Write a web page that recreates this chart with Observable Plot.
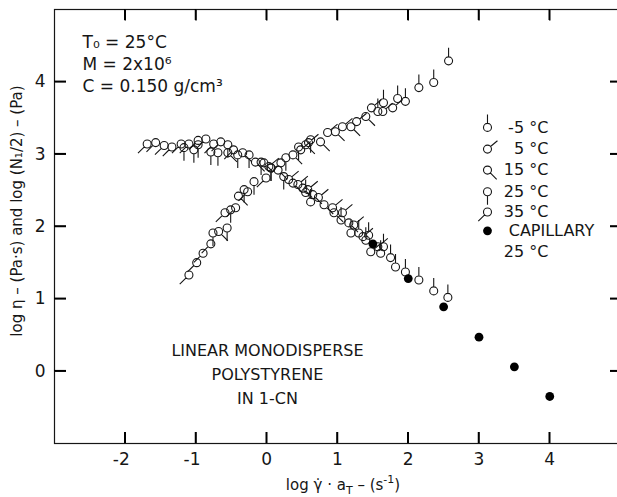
<!DOCTYPE html>
<html><head><meta charset="utf-8">
<script src="https://cdn.jsdelivr.net/npm/d3@7"></script>
<script src="https://cdn.jsdelivr.net/npm/@observablehq/plot@0.6"></script>
<style>body{margin:0;background:#fff} svg{display:block}</style>
</head><body><div id="chart"></div>
<script>
// ---- data ----
const tempLabels = ["-5 °C", "5 °C", "15 °C", "25 °C", "35 °C"];
const pipAngles = [-90, -40, 45, 90, 135]; // pip direction per temperature (SVG degrees)

// log eta vs log(gamma-dot * aT)
const etaM5 = [[0.55,2.47],[0.62,2.34],[1.05,2.09],[1.19,1.91],[1.30,1.91],[1.40,1.81],[1.44,1.88],[1.61,1.63],[1.65,1.72],[1.75,1.57],[1.82,1.44],[1.96,1.37],[2.15,1.26],[2.36,1.11],[2.56,1.02]];
const eta5  = [[0.03,2.83],[0.31,2.65],[0.44,2.58],[0.58,2.51],[0.73,2.40],[0.93,2.26],[1.07,2.19],[1.23,2.02],[1.36,1.86],[1.57,1.72],[1.47,1.65]];
const eta15 = [[-0.55,3.02],[-0.34,3.02],[-0.16,2.89],[-0.04,2.88],[0.16,2.78],[0.37,2.60],[0.51,2.53],[0.65,2.44],[0.81,2.30],[0.95,2.19],[1.16,2.05]];
const eta25 = [[-1.17,3.09],[-1.03,3.06],[-0.97,3.13],[-0.79,3.03],[-0.69,3.02],[-0.55,3.13],[-0.41,2.99],[-0.25,2.99],[-0.08,2.89],[0.06,2.81],[0.24,2.69]];
const eta35 = [[-1.69,3.14],[-1.57,3.16],[-1.45,3.12],[-1.34,3.10],[-1.21,3.14],[-1.10,3.14],[-0.97,3.19],[-0.86,3.21],[-0.75,3.14],[-0.65,3.17],[-0.47,3.06]];

// log (N1/2) vs log(gamma-dot * aT)
const n1M5 = [[1.57,3.59],[1.65,3.71],[1.85,3.77],[1.96,3.73],[2.15,3.92],[2.36,3.99],[2.57,4.29]];
const n15  = [[0.48,3.06],[0.59,3.16],[0.86,3.30],[1.07,3.38],[1.27,3.45],[1.48,3.64],[1.64,3.59],[1.78,3.64]];
const n115 = [[-0.68,1.93],[-0.40,2.42],[0.37,2.99],[0.55,3.13],[0.76,3.17],[0.97,3.31],[1.19,3.38],[1.40,3.52]];
const n125 = [[-0.76,1.91],[-0.56,1.98],[-0.51,2.23],[-0.32,2.51],[-0.18,2.62],[0.06,2.81],[0.27,2.95],[0.45,3.10],[0.62,3.20]];
const n135 = [[-1.10,1.33],[-0.99,1.50],[-0.90,1.63],[-0.79,1.76],[-0.59,2.19],[-0.44,2.26],[-0.27,2.48],[-0.01,2.67],[0.20,2.88]];

// capillary viscosity, 25 °C
const capX = [1.5, 2.0, 2.5, 3.0, 3.5, 4.0];
const capY = [1.76, 1.28, 0.89, 0.47, 0.06, -0.35];

const xTicks = [-2, -1, 0, 1, 2, 3, 4];
const yTicks = [0, 1, 2, 3, 4];

const legendLabels = ["-5 °C", "5 °C", "15 °C", "25 °C", "35 °C"];
const legendRowY = [3.37, 3.07, 2.78, 2.48, 2.20];
const capLegendY = [1.94, 1.65];
const legendSymX = 3.12, legendTextEnd = 3.98, legendTextStart = 3.42;

const annotation = "T₀ = 25°C\nM = 2x10⁶\nC = 0.150 g/cm³";
const sampleText = "LINEAR MONODISPERSE\nPOLYSTYRENE\nIN 1-CN";

// ---- symbols: open circle with a pip ----
const PIP = 9;
function pipSymbol(deg) {
  const a = deg * Math.PI / 180;
  return {
    draw(ctx, size) {
      const r = Math.sqrt(size / Math.PI);
      ctx.moveTo(r, 0);
      ctx.arc(0, 0, r, 0, 2 * Math.PI);
      ctx.moveTo(r * Math.cos(a), r * Math.sin(a));
      ctx.lineTo((r + PIP) * Math.cos(a), (r + PIP) * Math.sin(a));
    }
  };
}
const symbols = pipAngles.map(pipSymbol);
const etaSets = [etaM5, eta5, eta15, eta25, eta35];
const n1Sets = [n1M5, n15, n115, n125, n135];

const ink = "#161616";
const fmt = d => d < 0 ? "-" + Math.abs(d) : String(d);
const W = 617, H = 497, ML = 54, MR = -3, MT = 9, MB = 54;
const xDom = [-3, 5], yDom = [-1, 5];
const plotW = W - ML - MR, plotH = H - MT - MB;
const yUnit = (yDom[1] - yDom[0]) / plotH;

const marks = [];
// inward ticks on all four sides
const tk = {stroke: "#000", strokeWidth: 1.5};
marks.push(Plot.axisX(xTicks, {anchor: "bottom", tickSize: -11, tickFormat: () => "", label: null, ...tk}));
marks.push(Plot.link(xTicks, {x1: d => d, x2: d => d, y1: yDom[1], y2: yDom[1] - 11 * yUnit, ...tk}));
marks.push(Plot.ruleY(yTicks, {y: d => d, insetRight: plotW - 12, ...tk}));
marks.push(Plot.ruleY(yTicks, {y: d => d, insetLeft: plotW - 10, ...tk}));

etaSets.forEach((set, i) => {
  const all = set.concat(n1Sets[i]);
  marks.push(Plot.dot(all, {x: d => d[0], y: d => d[1], r: 4, symbol: symbols[i], fill: "none", stroke: ink, strokeWidth: 1.1}));
});
marks.push(Plot.dot(capX.map((x, i) => ({x, y: capY[i]})), {x: "x", y: "y", r: 4.4, fill: "#000", stroke: "none"}));

// legend
legendLabels.forEach((lab, i) => {
  marks.push(Plot.dot([legendRowY[i]], {x: legendSymX, y: d => d, r: 4, symbol: symbols[i], fill: "none", stroke: ink, strokeWidth: 1.1}));
});
marks.push(Plot.text(legendLabels, {x: legendTextEnd, y: (d, i) => legendRowY[i], text: d => d, textAnchor: "end", fontSize: 16, fill: ink}));
marks.push(Plot.dot([capLegendY[0]], {x: legendSymX, y: d => d, r: 4.4, fill: "#000"}));
marks.push(Plot.text(["CAPILLARY"], {x: legendTextStart, y: capLegendY[0], text: d => d, textAnchor: "start", fontSize: 16, fill: ink}));
marks.push(Plot.text(["25 °C"], {x: legendTextEnd, y: capLegendY[1], text: d => d, textAnchor: "end", fontSize: 16, fill: ink}));

// annotations
marks.push(Plot.text([annotation], {frameAnchor: "top-left", dx: 28, dy: 23, lineAnchor: "top", lineHeight: 1.3, text: d => d, textAnchor: "start", fontSize: 17, fill: ink}));
marks.push(Plot.text([sampleText], {x: 0.01, y: -0.01, text: d => d, textAnchor: "middle", lineHeight: 1.5, fontSize: 16, fill: ink}));

// tick labels left & bottom
marks.push(Plot.axisX(xTicks.filter(d => d < 0), {anchor: "bottom", tickSize: 0, tickPadding: 9, dx: -4, tickFormat: fmt, fontSize: 17, label: null, fill: ink}));
marks.push(Plot.axisX(xTicks.filter(d => d >= 0), {anchor: "bottom", tickSize: 0, tickPadding: 9, tickFormat: fmt, fontSize: 17, label: null, fill: ink}));
marks.push(Plot.axisY(yTicks, {anchor: "left", tickSize: 0, tickPadding: 9, tickFormat: fmt, fontSize: 17, label: null, fill: ink}));
marks.push(Plot.frame({stroke: ink, strokeWidth: 1.2}));

const svg = Plot.plot({
  width: W,
  height: H,
  marginLeft: ML,
  marginRight: MR,
  marginTop: MT,
  marginBottom: MB,
  x: {domain: xDom},
  y: {domain: yDom},
  style: {fontFamily: "'DejaVu Sans', sans-serif", fontSize: "16px", background: "#fff", color: ink},
  marks
});

const s = d3.select(svg);
// reinforce the inward ticks using Plot's own scales
const sx = svg.scale("x"), sy = svg.scale("y");
const tg = s.append("g").attr("stroke", "#000").attr("stroke-width", 1.5);
const x0 = sx.apply(xDom[0]), x1 = sx.apply(xDom[1]);
const y0 = sy.apply(yDom[0]), y1 = sy.apply(yDom[1]);
xTicks.forEach(v => {
  const px = sx.apply(v);
  tg.append("line").attr("x1", px).attr("x2", px).attr("y1", y0).attr("y2", y0 - 11);
  tg.append("line").attr("x1", px).attr("x2", px).attr("y1", y1).attr("y2", y1 + 11);
});
yTicks.forEach(v => {
  const py = sy.apply(v);
  tg.append("line").attr("y1", py).attr("y2", py).attr("x1", x0).attr("x2", x0 + 12);
  tg.append("line").attr("y1", py).attr("y2", py).attr("x1", x1).attr("x2", x1 - 10);
});

// axis titles with sub/superscripts
const xl = s.append("text").attr("x", 343).attr("y", 490).attr("text-anchor", "middle")
  .attr("font-size", 15).attr("fill", ink);
xl.append("tspan").text("log γ\u0307 · a");
xl.append("tspan").attr("font-size", 11).attr("dy", 4).text("T");
xl.append("tspan").attr("dy", -4).text(" – (s");
xl.append("tspan").attr("font-size", 11).attr("dy", -7).text("-1");
xl.append("tspan").attr("dy", 7).text(")");

s.append("text").attr("transform", "translate(22,211) rotate(-90)").attr("text-anchor", "middle")
  .attr("font-size", 15).attr("fill", ink)
  .text("log η – (Pa·s) and log (N₁/2) – (Pa)");

document.getElementById("chart").appendChild(svg);
</script>
</body></html>
